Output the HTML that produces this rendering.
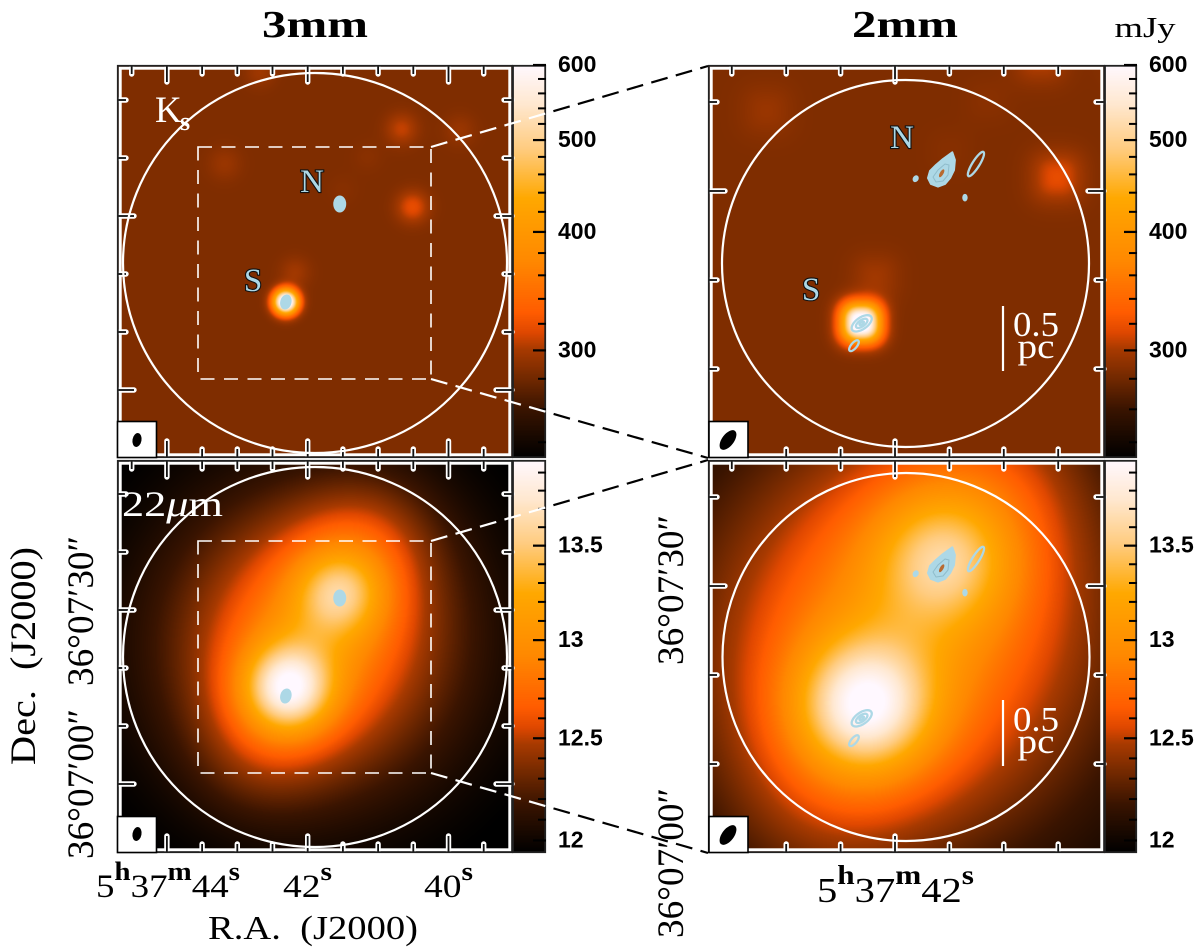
<!DOCTYPE html>
<html>
<head>
<meta charset="utf-8">
<title>3mm and 2mm continuum contours over Ks and 22 micron images</title>
<style>
html,body{margin:0;padding:0;background:#fff;}
#figure{position:relative;width:1200px;height:952px;overflow:hidden;background:#fff;}
canvas{position:absolute;display:block;}
svg{position:absolute;left:0;top:0;}
text{font-family:"Liberation Serif","DejaVu Serif",serif;fill:#000;}
.cb{font-family:"Liberation Sans",sans-serif;font-size:23px;font-weight:bold;}
.src{fill:#add8e6;stroke:#111;stroke-width:2.2px;paint-order:stroke;font-size:33px;}
.wt{fill:#fff;}
</style>
</head>
<body>
<div id="figure">
<canvas id="img0" width="396" height="393" style="left:117px;top:65px"></canvas>
<canvas id="img1" width="397" height="393" style="left:708px;top:65px"></canvas>
<canvas id="img2" width="396" height="393" style="left:117px;top:460px"></canvas>
<canvas id="img3" width="397" height="393" style="left:708px;top:460px"></canvas>
<canvas id="cb0" width="33" height="393" style="left:513px;top:65px"></canvas>
<canvas id="cb1" width="32" height="393" style="left:1105px;top:65px"></canvas>
<canvas id="cb2" width="33" height="393" style="left:513px;top:460px"></canvas>
<canvas id="cb3" width="32" height="393" style="left:1105px;top:460px"></canvas>
<svg id="overlay" width="1200" height="952" viewBox="0 0 1200 952">
<defs>
<clipPath id="inLeft"><rect x="0" y="0" width="546" height="952"/></clipPath>
<clipPath id="inRight"><rect x="546" y="0" width="654" height="952"/></clipPath>
</defs>
<g id="marks"></g>

<g fill="none" stroke="#fff" stroke-width="2.2">
<ellipse cx="315" cy="263" rx="192" ry="190"/>
<ellipse cx="905.5" cy="263.5" rx="183.5" ry="183.5"/>
<ellipse cx="315" cy="657" rx="192" ry="190"/>
<ellipse cx="906" cy="657" rx="183.5" ry="184"/>
</g>
<g fill="none" stroke="#fff" stroke-width="1.6" stroke-dasharray="14 9.5">
<rect x="198" y="147" width="233" height="232"/>
<rect x="198" y="541" width="233" height="232"/>
</g>
<g fill="none" stroke-width="2.2" stroke-dasharray="17 8.5">
<g stroke="#fff" clip-path="url(#inLeft)">
<line x1="431" y1="147" x2="708" y2="66"/>
<line x1="431" y1="379" x2="708" y2="458"/>
<line x1="431" y1="541" x2="708" y2="460"/>
<line x1="431" y1="773" x2="708" y2="853"/>
</g>
<g stroke="#000" clip-path="url(#inRight)">
<line x1="431" y1="147" x2="708" y2="66"/>
<line x1="431" y1="379" x2="708" y2="458"/>
<line x1="431" y1="541" x2="708" y2="460"/>
<line x1="431" y1="773" x2="708" y2="853"/>
</g>
</g>

<g id="beams">
<rect x="117.5" y="421.5" width="39" height="36" fill="#fff" stroke="#000" stroke-width="1.6"/>
<ellipse cx="137" cy="440" rx="4.5" ry="7" transform="rotate(10 137 440)" fill="#000"/>
<rect x="709" y="421.5" width="39" height="36" fill="#fff" stroke="#000" stroke-width="1.6"/>
<ellipse cx="728" cy="440" rx="6" ry="11.5" transform="rotate(37 728 440)" fill="#000"/>
<rect x="117.5" y="816.5" width="39" height="36" fill="#fff" stroke="#000" stroke-width="1.6"/>
<ellipse cx="137" cy="834" rx="4.5" ry="7" transform="rotate(10 137 834)" fill="#000"/>
<rect x="709" y="816.5" width="39" height="36" fill="#fff" stroke="#000" stroke-width="1.6"/>
<ellipse cx="728" cy="835" rx="6" ry="11.5" transform="rotate(37 728 835)" fill="#000"/>
</g>

<text x="315" y="37" text-anchor="middle" font-size="38" font-weight="bold" textLength="106" lengthAdjust="spacingAndGlyphs">3mm</text>
<text x="905" y="37" text-anchor="middle" font-size="38" font-weight="bold" textLength="106" lengthAdjust="spacingAndGlyphs">2mm</text>
<text x="1145" y="37" text-anchor="middle" font-size="29" textLength="61" lengthAdjust="spacingAndGlyphs">mJy</text>

<text class="wt" x="155" y="122" font-size="37">K</text>
<text class="wt" x="180" y="130" font-size="26" font-weight="bold">s</text>
<text class="wt" x="122" y="516" font-size="36" textLength="101" lengthAdjust="spacingAndGlyphs">22<tspan font-style="italic">μ</tspan>m</text>

<text class="src" x="312" y="192" text-anchor="middle">N</text>
<text class="src" x="253" y="291" text-anchor="middle">S</text>
<text class="src" x="902" y="148" text-anchor="middle">N</text>
<text class="src" x="811" y="300" text-anchor="middle">S</text>

<g>
<line x1="1003" y1="306" x2="1003" y2="371" stroke="#fff" stroke-width="2.2"/>
<text class="wt" x="1036" y="336" text-anchor="middle" font-size="35" textLength="46" lengthAdjust="spacingAndGlyphs">0.5</text>
<text class="wt" x="1036" y="358" text-anchor="middle" font-size="35" textLength="37" lengthAdjust="spacingAndGlyphs">pc</text>
</g>
<g>
<line x1="1003" y1="700" x2="1003" y2="766" stroke="#fff" stroke-width="2.2"/>
<text class="wt" x="1036" y="731" text-anchor="middle" font-size="35" textLength="46" lengthAdjust="spacingAndGlyphs">0.5</text>
<text class="wt" x="1036" y="753" text-anchor="middle" font-size="35" textLength="37" lengthAdjust="spacingAndGlyphs">pc</text>
</g>

<text transform="translate(93 611) rotate(-90)" text-anchor="middle" font-size="37" textLength="150" lengthAdjust="spacingAndGlyphs">36°07′30″</text>
<text transform="translate(93 784) rotate(-90)" text-anchor="middle" font-size="37" textLength="150" lengthAdjust="spacingAndGlyphs">36°07′00″</text>
<text transform="translate(683 590) rotate(-90)" text-anchor="middle" font-size="37" textLength="150" lengthAdjust="spacingAndGlyphs">36°07′30″</text>
<text transform="translate(683 863) rotate(-90)" text-anchor="middle" font-size="37" textLength="150" lengthAdjust="spacingAndGlyphs">36°07′00″</text>
<text transform="translate(35 656) rotate(-90)" text-anchor="middle" font-size="36" textLength="218" lengthAdjust="spacingAndGlyphs" xml:space="preserve">Dec.  (J2000)</text>
<text x="96" y="897" font-size="33" textLength="144" lengthAdjust="spacingAndGlyphs">5<tspan font-size="26" font-weight="bold" dy="-17">h</tspan><tspan dy="17">37</tspan><tspan font-size="26" font-weight="bold" dy="-17">m</tspan><tspan dy="17">44</tspan><tspan font-size="26" font-weight="bold" dy="-17">s</tspan></text>
<text x="283" y="897" font-size="33" textLength="49" lengthAdjust="spacingAndGlyphs">42<tspan font-size="26" font-weight="bold" dy="-17">s</tspan></text>
<text x="424" y="897" font-size="33" textLength="49" lengthAdjust="spacingAndGlyphs">40<tspan font-size="26" font-weight="bold" dy="-17">s</tspan></text>
<text x="817" y="902" font-size="35" textLength="157" lengthAdjust="spacingAndGlyphs">5<tspan font-size="27" font-weight="bold" dy="-18">h</tspan><tspan dy="18">37</tspan><tspan font-size="27" font-weight="bold" dy="-18">m</tspan><tspan dy="18">42</tspan><tspan font-size="27" font-weight="bold" dy="-18">s</tspan></text>
<text x="313" y="939" text-anchor="middle" font-size="34" textLength="210" lengthAdjust="spacingAndGlyphs" xml:space="preserve">R.A.  (J2000)</text>
</svg>
</div>

<script>
/* colour table (fraction along colorbar, hex) */
const cmapFractions = [0, 0.125, 0.2, 0.277, 0.32, 0.37, 0.5, 0.66, 0.787, 0.9, 1];
const cmapColors = ["#000000", "#3a1400", "#702800", "#a83a00", "#e04800", "#ff5c00", "#ff8800", "#ffa800", "#ffcc80", "#ffe8d0", "#fff8ff"];

/* Ks image: background and point-like sources (RA seconds, Dec arcsec after 36d07m) */
const ksBackground = 285;
const ksRa    = [42.31, 40.665, 39.84, 43.18, 40.51, 42.18, 41.15, 42.68, 41.50];
const ksDec   = [15.2,  45.0,   44.8,  39.0,  31.55, 20.3,  40.2,  54.8,  34.5];
const ksPeak  = [400,   22,     10,    10,    32,    13,    4,     12,    3];
const ksSigma = [1.35,  1.9,    1.9,   2.0,   1.9,   1.8,   1.8,   1.8,   1.8];

/* 22 micron image */
const wiseBackground = 11.9;
const wiseRa    = [41.92, 42.28, 41.55, 42.28, 41.55, 41.1, 42.7];
const wiseDec   = [24.7,  16.5,  33.0,  16.5,  33.0,  43.0, 5.0];
const wiseAmp   = [0.85,  0.3,   0.3,   1.03,  0.58,  0.2,  0.15];
const wiseSigma = [18,    9,     9,     5,     5,     8,    8];

/* colorbar ticks */
const ksMajorTicks = [300, 400, 500, 600];
const ksTickLabels = ["300", "400", "500", "600"];
const ksMinorTicks = [240, 260, 280, 320, 340, 360, 380, 420, 440, 460, 480, 520, 540, 560, 580];
const wiseMajorTicks = [12, 12.5, 13, 13.5];
const wiseTickLabels = ["12", "12.5", "13", "13.5"];
const wiseMinorTicks = [12.1, 12.2, 12.3, 12.4, 12.6, 12.7, 12.8, 12.9, 13.1, 13.2, 13.3, 13.4, 13.6, 13.7, 13.8, 13.9];

/* sky axis ticks */
const raTicksWide = [44.5, 44, 43.5, 43, 42.5, 42, 41.5, 41, 40.5, 40, 39.5];
const raLongWide = [44, 42, 40];
const decTicksWide = [50, 40, 30, 20, 10, 0];
const decLongWide = [30, 0];
const raTicksZoom = [43.5, 43, 42.5, 42, 41.5, 41, 40.5];
const raLongZoom = [42];
const decTicksZoom = [40, 30, 20, 10];
const decLongZoom = [30];

/* 3mm contours */
const c3Ra = [41.545, 42.31];
const c3Dec = [32.07, 15.17];
const c3Major = [1.4, 1.25];
const c3Minor = [1.05, 0.9];
const c3Angle = [90, 75];

/* 2mm contours: ellipses */
const c2Ra    = [41.256, 41.81, 41.357, 42.306, 42.306, 42.306, 42.377];
const c2Dec   = [33.03, 31.38, 29.25, 15.13, 15.13, 15.13, 12.62];
const c2Major = [1.6, 0.36, 0.38, 1.3, 0.75, 0.3, 0.75];
const c2Minor = [0.4, 0.28, 0.26, 0.65, 0.36, 0.14, 0.32];
const c2Angle = [58, 60, 90, 35, 35, 35, 50];
/* 2mm contours: northern teardrop outline, inner level and central gap */
const teardropRa  = [41.473, 41.449, 41.458, 41.494, 41.54, 41.605, 41.669, 41.697, 41.678, 41.623, 41.559];
const teardropDec = [34.35, 33.48, 32.36, 31.46, 30.79, 30.49, 30.79, 31.46, 32.25, 32.92, 33.6];
const teardropInnerRa  = [41.504, 41.513, 41.559, 41.623, 41.651, 41.605, 41.54];
const teardropInnerDec = [32.92, 31.8, 31.12, 31.01, 31.57, 32.36, 33.03];
const teardropGapRa = [41.571];
const teardropGapDec = [31.99];
const teardropGapMajor = [0.5];
const teardropGapMinor = [0.2];
const teardropGapAngle = [60];

const arcsecPerSecond = 12.14;
const rgbTable = cmapColors.map(function (h) {
  return [parseInt(h.slice(1, 3), 16), parseInt(h.slice(3, 5), 16), parseInt(h.slice(5, 7), 16)];
});

function colorAt(f) {
  if (f <= 0) return rgbTable[0];
  if (f >= 1) return rgbTable[rgbTable.length - 1];
  let i = 0;
  while (f > cmapFractions[i + 1]) i++;
  const t = (f - cmapFractions[i]) / (cmapFractions[i + 1] - cmapFractions[i]);
  const a = rgbTable[i], b = rgbTable[i + 1];
  return [a[0] + (b[0] - a[0]) * t, a[1] + (b[1] - a[1]) * t, a[2] + (b[2] - a[2]) * t];
}

function skySum(ra, dec, raArr, decArr, ampArr, sigArr, power) {
  let total = 0;
  for (let i = 0; i < raArr.length; i++) {
    const dx = Math.abs((ra - raArr[i]) * arcsecPerSecond);
    const dy = Math.abs(dec - decArr[i]);
    const r2 = power === 2 ? dx * dx + dy * dy : Math.pow(Math.pow(dx, power) + Math.pow(dy, power), 2 / power);
    total += ampArr[i] * Math.exp(-r2 / (2 * sigArr[i] * sigArr[i]));
  }
  return total;
}

const panels = [
  { id: 0, x: 117, y: 65, w: 396, h: 393, barW: 33, x42: 307.7, kx: 70.4, y0: 390, ky: 5.8, min: 231, max: 600, power: 2, band: "ks", wide: true },
  { id: 1, x: 708, y: 65, w: 397, h: 393, barW: 32, x42: 895, kx: 108.8, y0: 458, ky: 8.9, min: 231, max: 600, power: 2.6, band: "ks", wide: false },
  { id: 2, x: 117, y: 460, w: 396, h: 393, barW: 33, x42: 307.7, kx: 70.4, y0: 784, ky: 5.8, min: 11.94, max: 13.97, power: 2, band: "wise", wide: true },
  { id: 3, x: 708, y: 460, w: 397, h: 393, barW: 32, x42: 895, kx: 108.8, y0: 853, ky: 8.9, min: 11.94, max: 13.97, power: 2, band: "wise", wide: false }
];

function xOf(p, ra) { return p.x42 + (42 - ra) * p.kx; }
function yOf(p, dec) { return p.y0 - dec * p.ky; }
function raAt(p, px) { return 42 - (px - p.x42) / p.kx; }
function decAt(p, py) { return (p.y0 - py) / p.ky; }
function barY(p, v) { return p.y + p.h * (1 - Math.log(v / p.min) / Math.log(p.max / p.min)); }
function barFraction(p, v) { return Math.log(v / p.min) / Math.log(p.max / p.min); }

function valueAt(p, ra, dec) {
  if (p.band === "ks") return ksBackground + skySum(ra, dec, ksRa, ksDec, ksPeak, ksSigma, p.power);
  return wiseBackground + skySum(ra, dec, wiseRa, wiseDec, wiseAmp, wiseSigma, p.power);
}

function paintPanel(p) {
  const ctx = document.getElementById("img" + p.id).getContext("2d");
  const im = ctx.createImageData(p.w, p.h);
  let k = 0;
  for (let j = 0; j < p.h; j++) {
    const dec = decAt(p, p.y + j + 0.5);
    for (let i = 0; i < p.w; i++) {
      const c = colorAt(barFraction(p, valueAt(p, raAt(p, p.x + i + 0.5), dec)));
      im.data[k++] = c[0]; im.data[k++] = c[1]; im.data[k++] = c[2]; im.data[k++] = 255;
    }
  }
  ctx.putImageData(im, 0, 0);
  const bar = document.getElementById("cb" + p.id).getContext("2d");
  for (let j = 0; j < p.h; j++) {
    const c = colorAt(1 - (j + 0.5) / p.h);
    bar.fillStyle = "rgb(" + Math.round(c[0]) + "," + Math.round(c[1]) + "," + Math.round(c[2]) + ")";
    bar.fillRect(0, j, p.barW, 1);
  }
}

const NS = "http://www.w3.org/2000/svg";
const marks = document.getElementById("marks");
function shape(tag, attrs, parent) {
  const e = document.createElementNS(NS, tag);
  for (const a in attrs) e.setAttribute(a, attrs[a]);
  parent.appendChild(e);
  return e;
}

function drawTick(parent, x1, y1, x2, y2) {
  const halo = shape("line", { x1: x1, y1: y1, x2: x2, y2: y2, stroke: "#fff", "stroke-width": 5.4, "stroke-linecap": "round" }, parent);
  
  
  const core = shape("line", { x1: x1, y1: y1, x2: x2, y2: y2, stroke: "#111", "stroke-width": 1.8 }, parent);
  
  
}

function drawFrame(p) {
  const g = shape("g", {}, marks);
  
  
  const raTicks = p.wide ? raTicksWide : raTicksZoom;
  const raLong = p.wide ? raLongWide : raLongZoom;
  const decTicks = p.wide ? decTicksWide : decTicksZoom;
  const decLong = p.wide ? decLongWide : decLongZoom;
  const top = p.y, bottom = p.y + p.h, left = p.x, right = p.x + p.w;
  const white = shape("rect", { x: left + 3.2, y: top + 3.2, width: right - left - 6.4, height: bottom - top - 6.4, fill: "none", stroke: "#fff", "stroke-width": 3 }, g);
  
  
  raTicks.forEach(function (ra) {
    const len = raLong.indexOf(ra) >= 0 ? 17 : 9;
    const x = xOf(p, ra);
    drawTick(g, x, top + 1, x, top + len);
    drawTick(g, x, bottom - 1, x, bottom - len);
  });
  decTicks.forEach(function (dec) {
    const len = decLong.indexOf(dec) >= 0 ? 17 : 9;
    const y = yOf(p, dec);
    drawTick(g, left + 1, y, left + len, y);
    drawTick(g, right - 1, y, right - len, y);
  });
  const dark = shape("rect", { x: left + 0.8, y: top + 0.8, width: right - left - 1.6, height: bottom - top - 1.6, fill: "none", stroke: "#222", "stroke-width": 1.8 }, g);
  
  
  const barRight = p.x + p.w + p.barW;
  const barBox = shape("rect", { x: p.x + p.w, y: p.y + 0.8, width: p.barW - 0.8, height: p.h - 1.6, fill: "none", stroke: "#222", "stroke-width": 1.8 }, g);
  
  
  const major = p.band === "ks" ? ksMajorTicks : wiseMajorTicks;
  const labels = p.band === "ks" ? ksTickLabels : wiseTickLabels;
  const minor = p.band === "ks" ? ksMinorTicks : wiseMinorTicks;
  minor.forEach(function (v) {
    const y = barY(p, v);
    const t = shape("line", { x1: barRight - 8, y1: y, x2: barRight, y2: y, stroke: "#000", "stroke-width": 2 }, g);
    
    
  });
  major.forEach(function (v, i) {
    const y = barY(p, v);
    const t = shape("line", { x1: barRight - 13, y1: y, x2: barRight, y2: y, stroke: "#000", "stroke-width": 2.2 }, g);
    
    
    const lab = shape("text", { x: barRight + 12, y: Math.max(y + 7, 72), class: "cb" }, g);
    lab.textContent = labels[i];
    
    
  });
}

function drawEllipse(p, g, ra, dec, major, minor, angle, filled) {
  const cx = xOf(p, ra), cy = yOf(p, dec);
  const e = shape("ellipse", {
    cx: cx, cy: cy, rx: major * p.ky, ry: minor * p.ky,
    transform: "rotate(" + (-angle) + " " + cx + " " + cy + ")",
    fill: filled ? "#add8e6" : "none", stroke: "#add8e6", "stroke-width": filled ? 0.8 : 2.3
  }, g);
  
  
}

function polyPoints(p, raArr, decArr) {
  return raArr.map(function (ra, i) { return xOf(p, ra).toFixed(1) + "," + yOf(p, decArr[i]).toFixed(1); }).join(" ");
}

function drawContours(p) {
  const g = shape("g", {}, marks);
  
  
  if (p.wide) {
    c3Ra.forEach(function (ra, i) {
      drawEllipse(p, g, ra, c3Dec[i], c3Major[i], c3Minor[i], c3Angle[i], true);
    });
    return;
  }
  const outer = shape("polygon", { points: polyPoints(p, teardropRa, teardropDec), fill: "#add8e6", stroke: "#add8e6", "stroke-width": 2, "stroke-linejoin": "round" }, g);
  
  
  const inner = shape("polygon", { points: polyPoints(p, teardropInnerRa, teardropInnerDec), fill: "none", stroke: "#8fbccb", "stroke-width": 1, "stroke-linejoin": "round" }, g);
  
  
  teardropGapRa.forEach(function (ra, i) {
    const cx = xOf(p, ra), cy = yOf(p, teardropGapDec[i]);
    const gap = shape("ellipse", {
      cx: cx, cy: cy, rx: teardropGapMajor[i] * p.ky, ry: teardropGapMinor[i] * p.ky,
      transform: "rotate(" + (-teardropGapAngle[i]) + " " + cx + " " + cy + ")", fill: "#b86a30"
    }, g);
    
    
  });
  c2Ra.forEach(function (ra, i) {
    drawEllipse(p, g, ra, c2Dec[i], c2Major[i], c2Minor[i], c2Angle[i], c2Major[i] < 0.5 && c2Minor[i] > 0.15);
  });
}

panels.forEach(function (p) {
  paintPanel(p);
  drawFrame(p);
  drawContours(p);
});
</script>
</body>
</html>
